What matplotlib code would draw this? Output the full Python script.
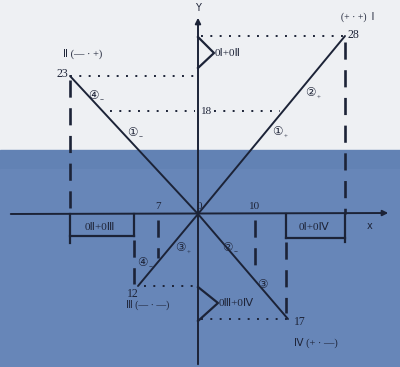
import matplotlib
matplotlib.use("Agg")
import matplotlib.pyplot as plt
import numpy as np

# ---- data (diagram units, origin at axis crossing) ----
quad_names = ["Ⅰ", "Ⅱ", "Ⅲ", "Ⅳ"]
quad_signs = ["(+ · +)", "(— · +)", "(— · —)", "(+ · —)"]
totals = ["28", "23", "12", "17"]
point_x = [14.7, -12.8, -6.0, 9.0]
point_y = [17.8, 13.8, -7.2, -10.5]
xtick_labels = ["7", "10"]
xtick_pos = [-4.0, 5.7]
ytick_label = "18"
ytick_pos = 10.3
bracket_labels = ["0Ⅰ+0Ⅱ", "0Ⅱ+0Ⅲ", "0Ⅰ+0Ⅳ", "0Ⅲ+0Ⅳ"]
circ_syms = ["④", "①", "②", "①", "②", "③", "③", "④"]
circ_subs = ["−", "−", "+", "+", "−", "", "+", "−"]
circ_x = [-10.5, -6.6, 11.2, 7.9, 2.9, 6.4, -1.8, -5.6]
circ_y = [11.9, 8.2, 12.2, 8.3, -3.3, -7.0, -3.3, -4.8]

LC = "#1c2337"
TC = "#1e2438"
FONT = ["Liberation Serif", "DejaVu Sans"]

fig = plt.figure(figsize=(4.0, 3.67), dpi=100)
ax = fig.add_axes([0, 0, 1, 1])
ax.set_xlim(-19.8, 20.2)
ax.set_ylim(-15.3, 21.4)
ax.axis("off")

# background
ax.axhspan(6.4, 21.4, color="#eef0f3", zorder=0)
ax.axhspan(4.5, 6.4, color="#6282b4", zorder=0)
ax.axhspan(-15.3, 4.5, color="#6786b8", zorder=0)

# axes
ax.annotate("", xy=(19.3, 0.1), xytext=(-19.0, 0.0),
            arrowprops=dict(arrowstyle="-|>", color=LC, lw=1.4, mutation_scale=8))
ax.annotate("", xy=(0, 19.9), xytext=(0, -15.3),
            arrowprops=dict(arrowstyle="-|>", color=LC, lw=1.4, mutation_scale=8))
ax.text(0, 20.1, "Y", ha="center", va="bottom", fontsize=7, color=TC, family="DejaVu Sans")
ax.text(17.2, -1.2, "x", ha="center", va="center", fontsize=7, color=TC, family="DejaVu Sans")
ax.text(0.15, 0.35, "0", ha="center", va="bottom", fontsize=8, color=TC, family=FONT)

# lines from origin to quadrant points
for px, py in zip(point_x, point_y):
    ax.plot([0, px], [0, py], color=LC, lw=1.4, solid_capstyle="round", zorder=3)

dot = dict(color=LC, lw=1.4, linestyle=(0, (1, 3.8)), zorder=2)
dash = dict(color=LC, lw=1.9, linestyle=(0, (6.5, 4)), zorder=2)
solid = dict(color=LC, lw=1.6, zorder=2)

# dotted horizontal level lines
ax.plot([0.3, point_x[0]], [point_y[0], point_y[0]], **dot)
ax.plot([point_x[1], -0.3], [point_y[1], point_y[1]], **dot)
ax.plot([point_x[2] + 0.6, -0.3], [point_y[2], point_y[2]], **dot)
ax.plot([0.3, point_x[3]], [point_y[3], point_y[3]], **dot)
ax.plot([-8.8, -0.3], [ytick_pos, ytick_pos], **dot)
ax.plot([1.6, 8.2], [ytick_pos, ytick_pos], **dot)

# dashed verticals from I and II
ax.plot([point_x[0], point_x[0]], [point_y[0] - 0.6, 0], **dash)
ax.plot([point_x[1], point_x[1]], [point_y[1] - 0.4, 0], **dash)
# brackets below x axis
ax.plot([point_x[0], point_x[0]], [0, -2.8], **solid)
ax.plot([8.8, 8.8], [0, -2.4], **solid)
ax.plot([8.8, point_x[0]], [-2.4, -2.4], **solid)
ax.plot([point_x[1], point_x[1]], [0, -2.9], **solid)
ax.plot([-6.4, -6.4], [0, -2.2], **solid)
ax.plot([point_x[1], -6.4], [-2.2, -2.2], **solid)
ax.text(11.6, -1.3, bracket_labels[2], ha="center", va="center", fontsize=8, color=TC, family=FONT)
ax.text(-9.8, -1.3, bracket_labels[1], ha="center", va="center", fontsize=8, color=TC, family=FONT)
# dashed down to III and IV
ax.plot([-6.4, -6.4], [-2.6, point_y[2] + 0.2], **dash)
ax.plot([8.8, 8.8], [-2.8, point_y[3] + 0.6], **dash)

# x tick dashes
for lab, xp, yb in zip(xtick_labels, xtick_pos, [-4.4, -5.1]):
    ax.plot([xp, xp], [-0.6, yb], **dash)
    ax.text(xp, 0.35, lab, ha="center", va="bottom", fontsize=8, color=TC, family=FONT)
ax.text(0.25, ytick_pos, ytick_label, ha="left", va="center", fontsize=8, color=TC, family=FONT)

# angle brackets on y axis
ax.plot([0, 1.6, 0], [17.7, 16.1, 14.6], **solid)
ax.text(1.7, 16.1, bracket_labels[0], ha="left", va="center", fontsize=8, color=TC, family=FONT)
ax.plot([0, 2.0, 0], [-7.3, -8.9, -10.7], **solid)
ax.text(2.1, -8.9, bracket_labels[3], ha="left", va="center", fontsize=8, color=TC, family=FONT)

# totals
ax.text(point_x[0] + 0.3, point_y[0] + 0.1, totals[0], ha="left", va="center", fontsize=8.5, color=TC, family=FONT)
ax.text(point_x[1] - 0.2, point_y[1] + 0.2, totals[1], ha="right", va="center", fontsize=8.5, color=TC, family=FONT)
ax.text(-6.5, point_y[2] - 0.2, totals[2], ha="center", va="top", fontsize=8.5, color=TC, family=FONT)
ax.text(point_x[3] + 0.6, point_y[3] - 0.3, totals[3], ha="left", va="center", fontsize=8.5, color=TC, family=FONT)

# quadrant labels
ax.text(16.0, 19.7, quad_signs[0] + "  " + quad_names[0], ha="center", va="center", fontsize=7, color=TC, family=FONT)
ax.text(-11.5, 16.0, quad_names[1] + " " + quad_signs[1], ha="center", va="center", fontsize=7.5, color=TC, family=FONT)
ax.text(-5.0, -9.1, quad_names[2] + " " + quad_signs[2], ha="center", va="center", fontsize=7, color=TC, family=FONT)
ax.text(11.8, -12.9, quad_names[3] + " " + quad_signs[3], ha="center", va="center", fontsize=7.5, color=TC, family=FONT)

# circled labels
for s, sub, cx, cy in zip(circ_syms, circ_subs, circ_x, circ_y):
    ax.text(cx, cy, s, ha="center", va="center", fontsize=8.5, color=TC, family=["DejaVu Sans"], zorder=4)
    if sub:
        ax.text(cx + 0.7, cy - 0.6, sub, ha="left", va="center", fontsize=5, color=TC, family=FONT, zorder=4)

fig.savefig("out.png", dpi=100)
